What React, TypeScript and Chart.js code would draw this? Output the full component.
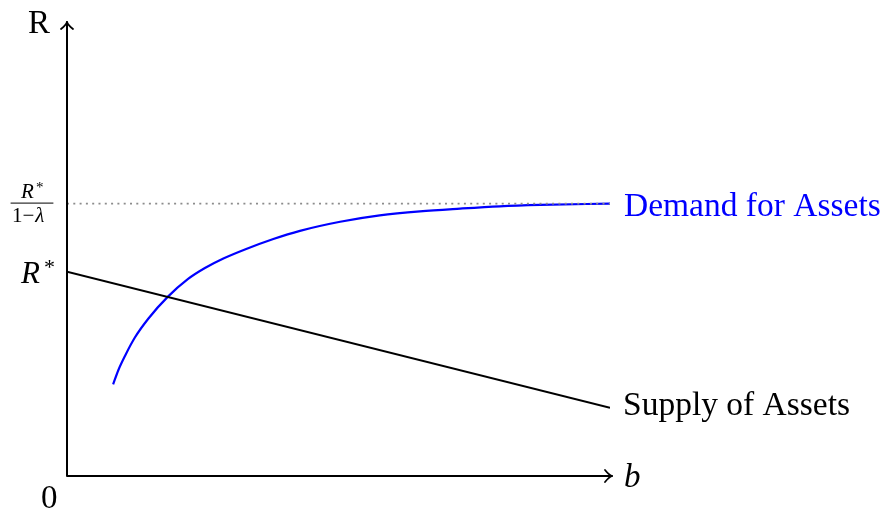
import React, { useEffect, useRef } from "react";
import { Chart, registerables } from "chart.js";

Chart.register(...registerables);

// Demand for assets (b, R)
const demandB = [0.85, 0.945, 1.07, 1.25, 1.5, 1.85, 2.23, 2.54, 2.88, 3.3, 3.8, 4.29, 5.03, 5.76, 6.5, 7.24, 7.97, 8.71, 10];
const demandR = [2.02, 2.33, 2.65, 3.05, 3.47, 3.94, 4.34, 4.58, 4.79, 5.0, 5.22, 5.4, 5.6, 5.74, 5.83, 5.89, 5.94, 5.97, 6.0];
// Supply of assets (straight line)
const supplyB = [0, 10];
const supplyR = [4.5, 1.5];
// Asymptote R*/(1-λ)
const asymB = [0, 10];
const asymR = [6, 6];
const rStar = 4.5;
const rAsym = 6;

const SERIF = '"Liberation Serif", "DejaVu Serif", serif';

export default function App() {
  const ref = useRef<HTMLCanvasElement | null>(null);

  useEffect(() => {
    if (!ref.current) return;
    const overlay = {
      id: "overlay",
      afterDraw(chart: any) {
        const ctx = chart.ctx as CanvasRenderingContext2D;
        const xs = chart.scales.x;
        const ys = chart.scales.y;
        const x0 = xs.getPixelForValue(0);
        const y0 = ys.getPixelForValue(0);
        const xEnd = xs.getPixelForValue(10) + 2;
        const yTop = ys.getPixelForValue(10);
        ctx.save();
        ctx.strokeStyle = "#000";
        ctx.lineWidth = 2;
        ctx.lineCap = "round";
        ctx.lineJoin = "round";
        ctx.beginPath();
        ctx.moveTo(x0, yTop);
        ctx.lineTo(x0, y0);
        ctx.lineTo(xEnd, y0);
        ctx.stroke();
        // arrowheads
        ctx.lineWidth = 1.8;
        ctx.beginPath();
        ctx.moveTo(x0 - 6, yTop + 7);
        ctx.quadraticCurveTo(x0 - 1, yTop + 3, x0, yTop);
        ctx.quadraticCurveTo(x0 + 1, yTop + 3, x0 + 6, yTop + 7);
        ctx.stroke();
        ctx.beginPath();
        ctx.moveTo(xEnd - 7, y0 - 6);
        ctx.quadraticCurveTo(xEnd - 3, y0 - 1, xEnd, y0);
        ctx.quadraticCurveTo(xEnd - 3, y0 + 1, xEnd - 7, y0 + 6);
        ctx.stroke();

        ctx.textBaseline = "alphabetic";
        ctx.textAlign = "left";
        ctx.fillStyle = "#000";
        ctx.font = `33px ${SERIF}`;
        ctx.fillText("R", 28, 33);
        ctx.fillText("0", 41, 508);
        ctx.font = `italic 33px ${SERIF}`;
        ctx.fillText("b", 624, 487);

        // R* label
        const yR = ys.getPixelForValue(rStar);
        ctx.font = `italic 31px ${SERIF}`;
        ctx.fillText("R", 21, yR + 11);
        ctx.font = `22px ${SERIF}`;
        ctx.fillText("*", 44, yR + 2);

        // fraction R*/(1-λ)
        const yA = ys.getPixelForValue(rAsym);
        ctx.lineWidth = 1;
        ctx.beginPath();
        ctx.moveTo(11, yA - 0.5);
        ctx.lineTo(53, yA - 0.5);
        ctx.stroke();
        ctx.font = `italic 21px ${SERIF}`;
        ctx.fillText("R", 21, yA - 6);
        ctx.font = `15px ${SERIF}`;
        ctx.fillText("*", 36, yA - 12);
        ctx.font = `21px ${SERIF}`;
        const w1 = ctx.measureText("1\u2212").width;
        ctx.fillText("1\u2212", 12, yA + 18);
        ctx.font = `italic 21px ${SERIF}`;
        ctx.fillText("\u03bb", 12 + w1 + 1, yA + 18);

        // series labels
        ctx.font = `33.5px ${SERIF}`;
        ctx.fillStyle = "#0000ff";
        ctx.fillText("Demand for Assets", 624, ys.getPixelForValue(demandR[demandR.length - 1]) + 12);
        ctx.fillStyle = "#000";
        ctx.fillText("Supply of Assets", 623, ys.getPixelForValue(supplyR[1]) + 7);
        ctx.restore();
      },
    };

    const chart = new Chart(ref.current, {
      type: "line",
      data: {
        datasets: [
          {
            label: "asymptote",
            data: asymB.map((b, i) => ({ x: b, y: asymR[i] })),
            borderColor: "#8c8c8c",
            borderWidth: 1.6,
            borderDash: [2, 4.3],
            pointRadius: 0,
            fill: false,
          },
          {
            label: "Supply of Assets",
            data: supplyB.map((b, i) => ({ x: b, y: supplyR[i] })),
            borderColor: "#000",
            borderWidth: 2,
            pointRadius: 0,
            fill: false,
          },
          {
            label: "Demand for Assets",
            data: demandB.map((b, i) => ({ x: b, y: demandR[i] })),
            borderColor: "#0000ff",
            borderWidth: 2.2,
            pointRadius: 0,
            cubicInterpolationMode: "monotone",
            fill: false,
          },
        ],
      },
      options: {
        animation: false,
        responsive: false,
        events: [],
        layout: { padding: { left: 67, right: 274, top: 22, bottom: 34 } },
        plugins: { legend: { display: false }, tooltip: { enabled: false } },
        scales: {
          x: { type: "linear", min: 0, max: 10, display: false },
          y: { type: "linear", min: 0, max: 10, display: false },
        },
      },
      plugins: [overlay],
    } as any);
    return () => chart.destroy();
  }, []);

  return (
    <div style={{ position: "absolute", left: 0, top: 0, width: 884, height: 510, background: "#fff" }}>
      <canvas ref={ref} width={884} height={510} style={{ display: "block" }} />
    </div>
  );
}
